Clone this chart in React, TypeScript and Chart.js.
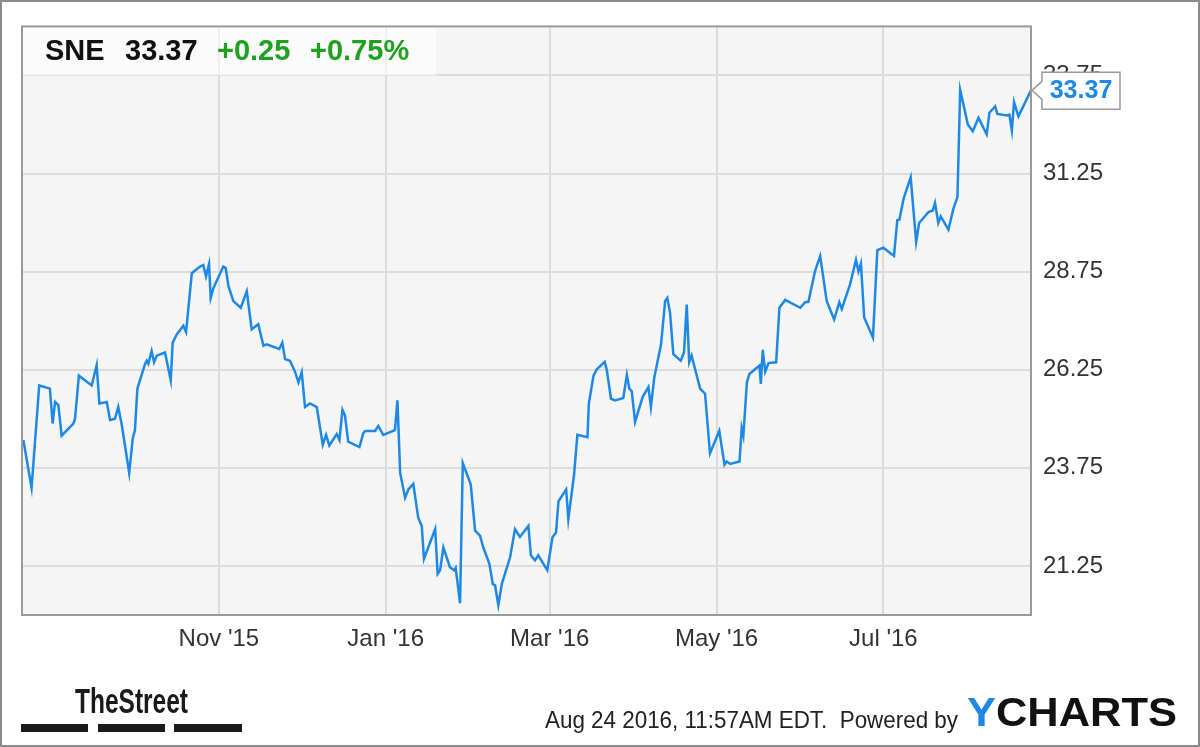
import React, { useEffect, useRef } from "react";
import { Chart, registerables } from "chart.js";

Chart.register(...registerables);

// ---- data ----
const ticker = "SNE";
const lastPrice = 33.37;
const change = "+0.25";
const changePct = "+0.75%";
const footerText = "Aug 24 2016, 11:57AM EDT.  Powered by";

// x axis: days since 2015-08-21; axis ends 2016-08-24
const xMinDay = 0;
const xMaxDay = 369;
const monthTickDays = [72, 133, 193, 254, 315];
const monthTickLabels = ["Nov '15", "Jan '16", "Mar '16", "May '16", "Jul '16"];
const priceTicks = [21.25, 23.75, 26.25, 28.75, 31.25, 33.75];
const priceMin = 20;
const priceMax = 35;

const days = [
  0.5, 3.5, 6.3, 10.2, 11.2, 12.1, 13.3, 14.5, 18.8, 19.4, 20.8, 25.5, 27.3, 28.3, 31.0, 32.2, 34.0, 35.2, 36.5, 39.2,
  40.5, 41.3, 42.2, 45.0, 45.6, 46.2, 47.4, 48.3, 49.3, 52.3, 54.4, 55.1, 56.6, 59.0, 60.0, 62.1, 65.1, 66.3, 67.3, 68.4,
  69.0, 70.0, 73.6, 74.5, 75.5, 77.3, 80.0, 82.2, 84.0, 86.4, 88.3, 89.5, 94.1, 95.2, 96.2, 98.0, 99.9, 101.1, 102.3, 103.5,
  105.3, 107.8, 110.0, 111.2, 112.4, 115.1, 116.1, 117.2, 118.1, 119.3, 123.4, 124.8, 125.5, 129.1, 130.3, 132.1, 136.4, 137.3, 138.3, 140.1,
  141.3, 143.1, 144.9, 146.2, 147.0, 151.1, 152.0, 152.9, 154.1, 156.5, 158.0, 158.6, 160.2, 161.2, 164.1, 165.7, 167.5, 168.7, 170.9, 172.2,
  173.0, 174.2, 175.5, 178.5, 180.3, 182.1, 185.2, 186.1, 187.6, 188.8, 192.1, 194.0, 195.3, 196.2, 199.0, 199.8, 201.9, 203.1, 206.8, 207.3,
  209.0, 210.2, 213.1, 213.9, 215.4, 216.9, 219.9, 221.2, 222.1, 223.0, 224.2, 227.0, 229.1, 230.0, 231.2, 233.7, 235.2, 236.0, 237.0, 238.2,
  240.9, 242.1, 243.1, 244.0, 244.9, 245.5, 248.0, 249.8, 251.6, 255.0, 256.9, 257.7, 259.0, 262.4, 263.2, 263.8, 265.1, 266.0, 269.7, 270.2,
  270.9, 271.8, 273.0, 275.8, 277.0, 279.1, 284.6, 286.4, 287.6, 290.0, 291.9, 294.3, 297.0, 298.9, 299.8, 302.8, 305.0, 305.9, 306.8, 308.0,
  311.2, 312.8, 315.0, 318.9, 320.1, 320.9, 322.4, 325.0, 327.0, 328.1, 331.5, 333.1, 333.9, 335.1, 336.0, 338.8, 340.6, 342.1, 343.1, 345.9,
  347.7, 349.8, 352.8, 353.8, 355.9, 356.7, 360.2, 361.1, 362.0, 362.8, 364.4, 369.0,
];

const prices = [
  24.46, 23.24, 25.85, 25.77, 24.88, 25.43, 25.35, 24.57, 24.88, 25.01, 26.10, 25.85, 26.37, 25.39, 25.43, 24.97, 25.0, 25.30, 24.84, 23.62,
  24.50, 24.71, 25.77, 26.40, 26.48, 26.40, 26.73, 26.44, 26.61, 26.69, 25.98, 26.94, 27.15, 27.37, 27.21, 28.71, 28.88, 28.92, 28.63, 28.94,
  28.08, 28.33, 28.88, 28.84, 28.38, 28.0, 27.83, 28.25, 27.28, 27.41, 26.86, 26.90, 26.78, 26.94, 26.52, 26.48, 26.19, 25.93, 26.19, 25.30,
  25.39, 25.30, 24.34, 24.59, 24.32, 24.61, 24.46, 25.23, 25.09, 24.42, 24.28, 24.63, 24.69, 24.69, 24.82, 24.59, 24.71, 25.47, 23.62, 22.99,
  23.20, 23.34, 22.48, 22.27, 21.43, 22.19, 21.05, 21.14, 21.72, 21.22, 21.14, 21.20, 20.30, 23.87, 23.33, 22.15, 22.02, 21.72, 21.31, 20.78,
  20.76, 20.25, 20.80, 21.47, 22.19, 21.99, 22.27, 21.52, 21.39, 21.52, 21.14, 21.98, 22.10, 22.90, 23.20, 22.44, 23.58, 24.59, 24.53, 25.39,
  26.10, 26.26, 26.45, 26.23, 25.51, 25.47, 25.53, 26.12, 25.77, 25.70, 24.92, 25.56, 25.81, 25.30, 26.04, 26.90, 28.0, 28.08, 27.70, 26.65,
  26.48, 26.69, 27.91, 26.44, 26.61, 26.44, 25.77, 25.64, 24.12, 24.69, 23.83, 23.91, 23.85, 23.91, 24.76, 24.57, 25.93, 26.14, 26.36, 25.89,
  26.76, 26.20, 26.42, 26.44, 27.83, 28.03, 27.83, 27.97, 27.98, 28.76, 29.15, 28.0, 27.53, 27.97, 27.80, 28.42, 29.05, 28.76, 28.96, 27.58,
  27.07, 29.30, 29.36, 29.15, 30.06, 30.08, 30.61, 31.15, 29.51, 29.99, 30.27, 30.31, 30.50, 29.99, 30.16, 29.82, 30.35, 30.65, 33.38, 32.50,
  32.33, 32.67, 32.25, 32.80, 32.96, 32.77, 32.73, 32.75, 32.35, 33.07, 32.71, 33.37,
];

const FONT = "'Liberation Sans', Arial, Helvetica, sans-serif";
const LINE_BLUE = "#1e88e5";
const GREEN = "#20a020";

const decorPlugin = {
  id: "decor",
  beforeDraw(chart: any) {
    const { ctx, chartArea: a } = chart;
    ctx.save();
    ctx.fillStyle = "#ffffff";
    ctx.fillRect(0, 0, chart.width, chart.height);
    ctx.fillStyle = "#f5f5f5";
    ctx.fillRect(a.left, a.top, a.right - a.left, a.bottom - a.top);
    ctx.restore();
  },
  beforeDatasetsDraw(chart: any) {
    const { ctx, chartArea: a } = chart;
    const y = chart.scales.y;
    ctx.save();
    // header box
    const boxBottom = y.getPixelForValue(33.75);
    ctx.fillStyle = "rgba(255,255,255,0.55)";
    ctx.fillRect(a.left, a.top, 414, boxBottom - a.top);
    ctx.textBaseline = "alphabetic";
    ctx.textAlign = "left";
    ctx.font = `bold 29px ${FONT}`;
    ctx.fillStyle = "#111111";
    ctx.fillText(ticker, 45, 60);
    ctx.fillText(lastPrice.toFixed(2), 125, 60);
    ctx.fillStyle = GREEN;
    ctx.fillText(change, 217, 60);
    ctx.fillText(changePct, 310, 60);
    ctx.restore();
  },
  afterDatasetsDraw(chart: any) {
    const { ctx, chartArea: a } = chart;
    ctx.save();
    ctx.strokeStyle = "#9a9a9a";
    ctx.lineWidth = 2;
    ctx.strokeRect(a.left, a.top, a.right - a.left, a.bottom - a.top);
    ctx.restore();
  },
  afterDraw(chart: any) {
    const { ctx, chartArea: a } = chart;
    const y = chart.scales.y;
    ctx.save();
    // callout
    const ly = y.getPixelForValue(lastPrice);
    const tipX = a.right;
    const left = tipX + 11;
    const right = left + 78;
    const top = ly - 18;
    const bottom = ly + 19;
    ctx.beginPath();
    ctx.moveTo(left, top);
    ctx.lineTo(right, top);
    ctx.lineTo(right, bottom);
    ctx.lineTo(left, bottom);
    ctx.lineTo(left, ly + 9);
    ctx.lineTo(tipX + 1, ly);
    ctx.lineTo(left, ly - 9);
    ctx.closePath();
    ctx.fillStyle = "#ffffff";
    ctx.fill();
    ctx.strokeStyle = "#999999";
    ctx.lineWidth = 1.5;
    ctx.stroke();
    ctx.fillStyle = LINE_BLUE;
    ctx.font = `bold 25px ${FONT}`;
    ctx.textAlign = "center";
    ctx.textBaseline = "middle";
    ctx.fillText(lastPrice.toFixed(2), (left + right) / 2, ly + 1);

    // TheStreet logo
    ctx.fillStyle = "#1a1a1a";
    ctx.textAlign = "left";
    ctx.textBaseline = "alphabetic";
    ctx.font = `bold 35px ${FONT}`;
    ctx.fillText("TheStreet", 75, 713, 113);
    ctx.fillRect(21, 724, 67, 8);
    ctx.fillRect(98, 724, 67, 8);
    ctx.fillRect(174, 724, 68, 8);

    // footer
    ctx.fillStyle = "#222222";
    ctx.font = `24px ${FONT}`;
    ctx.fillText(footerText, 545, 728, 413);

    // YCHARTS
    ctx.font = `bold 40px ${FONT}`;
    const wY = ctx.measureText("Y").width;
    const wRest = ctx.measureText("CHARTS").width;
    const sx = 210 / (wY + wRest);
    ctx.translate(967, 726);
    ctx.scale(sx, 1);
    ctx.fillStyle = LINE_BLUE;
    ctx.fillText("Y", 0, 0);
    ctx.fillStyle = "#111111";
    ctx.fillText("CHARTS", wY, 0);
    ctx.setTransform(1, 0, 0, 1, 0, 0);

    // outer frame
    ctx.strokeStyle = "#8c8c8c";
    ctx.lineWidth = 2;
    ctx.strokeRect(1, 1, chart.width - 2, chart.height - 2);
    ctx.restore();
  },
};

export default function App() {
  const ref = useRef<HTMLCanvasElement | null>(null);

  useEffect(() => {
    if (!ref.current) return;
    const points = days.map((d, i) => ({ x: d, y: prices[i] }));
    const chart = new Chart(ref.current, {
      type: "line",
      data: {
        datasets: [
          {
            data: points,
            borderColor: LINE_BLUE,
            borderWidth: 2.5,
            pointRadius: 0,
            tension: 0,
            fill: false,
          },
        ],
      },
      options: {
        responsive: false,
        animation: false,
        events: [],
        layout: { padding: { left: 22, top: 21, right: 0, bottom: 0 } },
        plugins: { legend: { display: false }, tooltip: { enabled: false } },
        scales: {
          x: {
            type: "linear",
            min: xMinDay,
            max: xMaxDay,
            afterBuildTicks: (s: any) => {
              s.ticks = monthTickDays.map((v) => ({ value: v }));
            },
            afterFit: (s: any) => {
              s.height = 132;
            },
            ticks: {
              autoSkip: false,
              maxRotation: 0,
              padding: 10,
              color: "#333333",
              font: { size: 24, family: FONT },
              callback: (v: any) => {
                const i = monthTickDays.indexOf(Number(v));
                return i >= 0 ? monthTickLabels[i] : "";
              },
            },
            grid: { color: "#dcdcdc", lineWidth: 2, drawTicks: false },
            border: { display: false },
          },
          y: {
            type: "linear",
            position: "right",
            min: priceMin,
            max: priceMax,
            afterBuildTicks: (s: any) => {
              s.ticks = priceTicks.map((v) => ({ value: v }));
            },
            afterFit: (s: any) => {
              s.width = 169;
            },
            ticks: {
              padding: 12,
              color: "#333333",
              font: { size: 24, family: FONT },
              callback: (v: any) => Number(v).toFixed(2),
            },
            grid: { color: "#dcdcdc", lineWidth: 2, drawTicks: false },
            border: { display: false },
          },
        },
      },
      plugins: [decorPlugin],
    });
    return () => chart.destroy();
  }, []);

  return (
    <div style={{ position: "fixed", left: 0, top: 0, width: 1200, height: 747, background: "#fff" }}>
      <canvas ref={ref} width={1200} height={747} style={{ display: "block", width: 1200, height: 747 }} />
    </div>
  );
}
